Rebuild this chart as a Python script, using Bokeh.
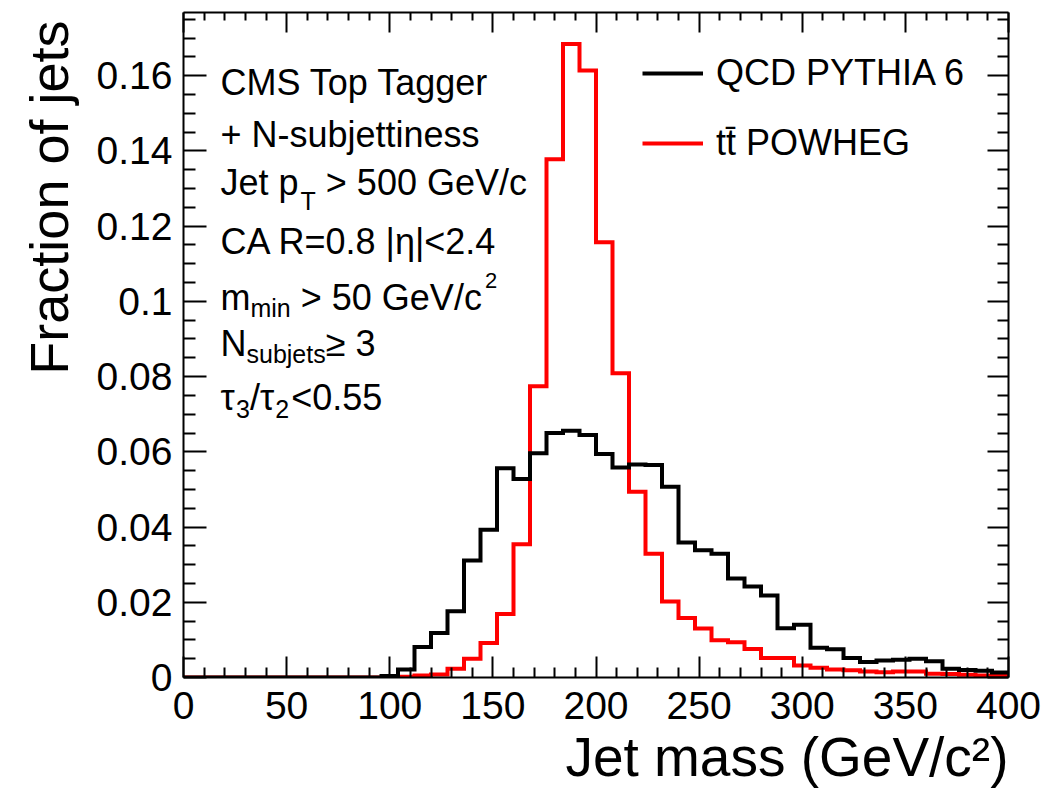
from bokeh.plotting import figure
from bokeh.models import (Range1d, LinearAxis, FixedTicker, CustomJSTickFormatter,
                          Label, Legend, LegendItem, Title)
from bokeh.embed import file_html
from bokeh.resources import INLINE

# ---------------- data ----------------
bin_edges = list(range(0, 401, 8))          # jet mass bin edges (GeV/c^2), 50 bins

qcd_pythia6 = [
    0, 0, 0, 0, 0, 0, 0, 0, 0, 0, 0, 0,
    0.0004, 0.0021, 0.0081, 0.0118, 0.0176, 0.0311, 0.0393, 0.0556, 0.0528, 0.0596,
    0.0650, 0.0656, 0.0645, 0.0594, 0.0558, 0.0566, 0.0565, 0.0507, 0.0359, 0.0338,
    0.0329, 0.0263, 0.0242, 0.0218, 0.0131, 0.0140, 0.0079, 0.0075, 0.0052, 0.0041,
    0.0045, 0.0047, 0.0050, 0.0043, 0.0023, 0.0020, 0.0018, 0.0013,
]

ttbar_powheg = [
    0, 0, 0, 0, 0, 0, 0, 0, 0, 0, 0, 0, 0,
    0.0002, 0.0005, 0.0008, 0.0023, 0.0050, 0.0092, 0.0169, 0.0354, 0.0774, 0.1378,
    0.1684, 0.1614, 0.1157, 0.0809, 0.0494, 0.0329, 0.0202, 0.0158, 0.0130, 0.0099,
    0.0094, 0.0076, 0.0052, 0.0052, 0.0032, 0.0026, 0.0021, 0.0019, 0.0016, 0.0014,
    0.0016, 0.0016, 0.0010, 0.0009, 0.0007, 0.0005, 0.0004,
]

x_major_ticks = [0, 50, 100, 150, 200, 250, 300, 350, 400]
x_minor_ticks = [v for v in range(0, 401, 10) if v % 50 != 0]
y_major_ticks = [0, 0.02, 0.04, 0.06, 0.08, 0.1, 0.12, 0.14, 0.16]
y_minor_ticks = [round(0.005 * i, 3) for i in range(0, 36) if i % 4 != 0]

series_labels = ["QCD PYTHIA 6", "tt\u0304 POWHEG"]
x_title = "Jet mass (GeV/c\u00b2)"
y_title = "Fraction of jets"

# ---------------- layout ----------------
FONT = "Liberation Sans"
W, H = 1054, 800
L, R, T, B = 183, 1008, 12, 677
XMAX, YMAX = 400.0, 0.1768

p = figure(width=W, height=H, x_range=Range1d(0, XMAX), y_range=Range1d(0, YMAX),
           output_backend="svg", toolbar_location=None,
           min_border_left=L, min_border_right=W - R, min_border_top=T,
           min_border_bottom=H - B)
p.outline_line_color = None
p.xgrid.grid_line_color = None
p.ygrid.grid_line_color = None
p.background_fill_color = "white"
p.border_fill_color = "white"


def style_axis(ax, ticks, minor, tick_len, minor_len, formatter, label_size, standoff):
    ax.ticker = FixedTicker(ticks=ticks, minor_ticks=minor)
    ax.formatter = formatter
    ax.axis_line_color = "black"
    ax.axis_line_width = 2
    ax.major_tick_line_color = "black"
    ax.major_tick_line_width = 2
    ax.minor_tick_line_color = "black"
    ax.minor_tick_line_width = 2
    ax.major_tick_in = tick_len
    ax.major_tick_out = 0
    ax.minor_tick_in = minor_len
    ax.minor_tick_out = 0
    ax.major_label_text_font = FONT
    ax.major_label_text_font_size = label_size
    ax.major_label_text_color = "black"
    ax.major_label_standoff = standoff


xfmt = CustomJSTickFormatter(code="return tick.toFixed(0);")
yfmt = CustomJSTickFormatter(code="return tick == 0 ? '0' : (Math.round(tick*1000)/1000).toString();")
blank = CustomJSTickFormatter(code="return '';")

style_axis(p.xaxis[0], x_major_ticks, x_minor_ticks, 21, 10, xfmt, "39px", 14)
style_axis(p.yaxis[0], y_major_ticks, y_minor_ticks, 23, 12, yfmt, "39px", 11)

top_ax = LinearAxis()
right_ax = LinearAxis()
style_axis(top_ax, x_major_ticks, x_minor_ticks, 20, 8, blank, "0px", 0)
style_axis(right_ax, y_major_ticks, y_minor_ticks, 21, 11, blank, "0px", 0)
p.add_layout(top_ax, "above")
p.add_layout(right_ax, "right")

# axis titles (as side-panel titles, aligned to the far ends like the reference)
p.add_layout(Title(text=x_title, align="right", text_font=FONT, text_font_size="55px",
                   text_font_style="normal", text_color="black", standoff=5), "below")
p.add_layout(Title(text=y_title, align="right", text_font=FONT, text_font_size="54px",
                   text_font_style="normal", text_color="black", standoff=29, offset=8), "left")

# ---------------- histograms ----------------
r_tt = p.step(x=bin_edges, y=ttbar_powheg + [ttbar_powheg[-1]], mode="after",
              line_color="#ff0000", line_width=4, line_join="miter")
r_qcd = p.step(x=bin_edges, y=qcd_pythia6 + [qcd_pythia6[-1]], mode="after",
               line_color="black", line_width=4, line_join="miter")

legend = Legend(items=[LegendItem(label=series_labels[0], renderers=[r_qcd]),
                       LegendItem(label=series_labels[1], renderers=[r_tt])],
                location=(642 - L, 513), orientation="vertical",
                glyph_width=61, glyph_height=40, label_height=40, label_standoff=13,
                spacing=28, padding=0, margin=0,
                border_line_alpha=0, background_fill_alpha=0,
                label_text_font=FONT, label_text_font_size="36px", label_text_color="black")
p.add_layout(legend)

# ---------------- texts inside the frame ----------------
AW = {' ': .278, '+': .584, '-': .333, '.': .278, '/': .278, '<': .584, '=': .584, '>': .584,
      '|': .26, '(': .333, ')': .333, 'A': .667, 'C': .722, 'D': .722, 'E': .667, 'G': .778,
      'H': .722, 'I': .278, 'J': .5, 'M': .833, 'N': .722, 'O': .778, 'P': .667, 'Q': .778,
      'R': .722, 'S': .667, 'T': .611, 'V': .667, 'W': .944, 'Y': .667, 'a': .556, 'b': .556,
      'c': .5, 'e': .556, 'f': .278, 'g': .556, 'i': .222, 'j': .222, 'l': .222, 'm': .833,
      'n': .556, 'o': .556, 'p': .556, 'r': .333, 's': .5, 't': .278, 'u': .556,
      '\u2265': .549, '\u03b7': .556, '\u03c4': .43}


def tw(s, size):
    return sum(AW.get(ch, .556) for ch in s) * size


def xd(px):
    return (px - L) * XMAX / (R - L)


def yd(py):
    return (B - py) * YMAX / (B - T)


def lab(px, py, text, size):
    p.add_layout(Label(x=xd(px), y=yd(py), x_units="data", y_units="data", text=text,
                       text_font=FONT, text_font_size=f"{size}px", text_color="black",
                       text_align="left", text_baseline="alphabetic"))


def rich(px, segments):
    """segments: (text, size, baseline_py, gap_before); leading spaces become gaps"""
    x = px
    for text, size, py, gap in segments:
        x += gap
        stripped = text.lstrip(" ")
        x += tw(text[:len(text) - len(stripped)], size)
        lab(x, py, stripped, size)
        x += tw(stripped, size)


X0, S, SUB = 220, 36, 25
rich(X0, [("CMS Top Tagger", S, 82, 0)])
rich(X0, [("+ N-subjettiness", S, 134, 0)])
rich(X0, [("Jet p", S, 182, 0), ("T", SUB, 200, 2), (" > 500 GeV/c", S, 182, 0)])
rich(X0, [("CA R=0.8 |\u03b7|<2.4", S, 241, 0)])
rich(X0, [("m", S, 297, 0), ("min", SUB, 307, 0), (" > 50 GeV/c", S, 297, 0), ("2", 22, 280, 3)])
rich(X0, [("N", S, 343, 0), ("subjets", SUB, 353, 0), ("\u2265 3", S, 343, 0)])
rich(X0, [("\u03c4", S, 397, 0), ("3", SUB, 408, 0), ("/", S, 397, 0), ("\u03c4", S, 397, 0),
          ("2", SUB, 408, 0), ("<0.55", S, 397, 2)])

open("out.html", "w").write(file_html(p, INLINE))
